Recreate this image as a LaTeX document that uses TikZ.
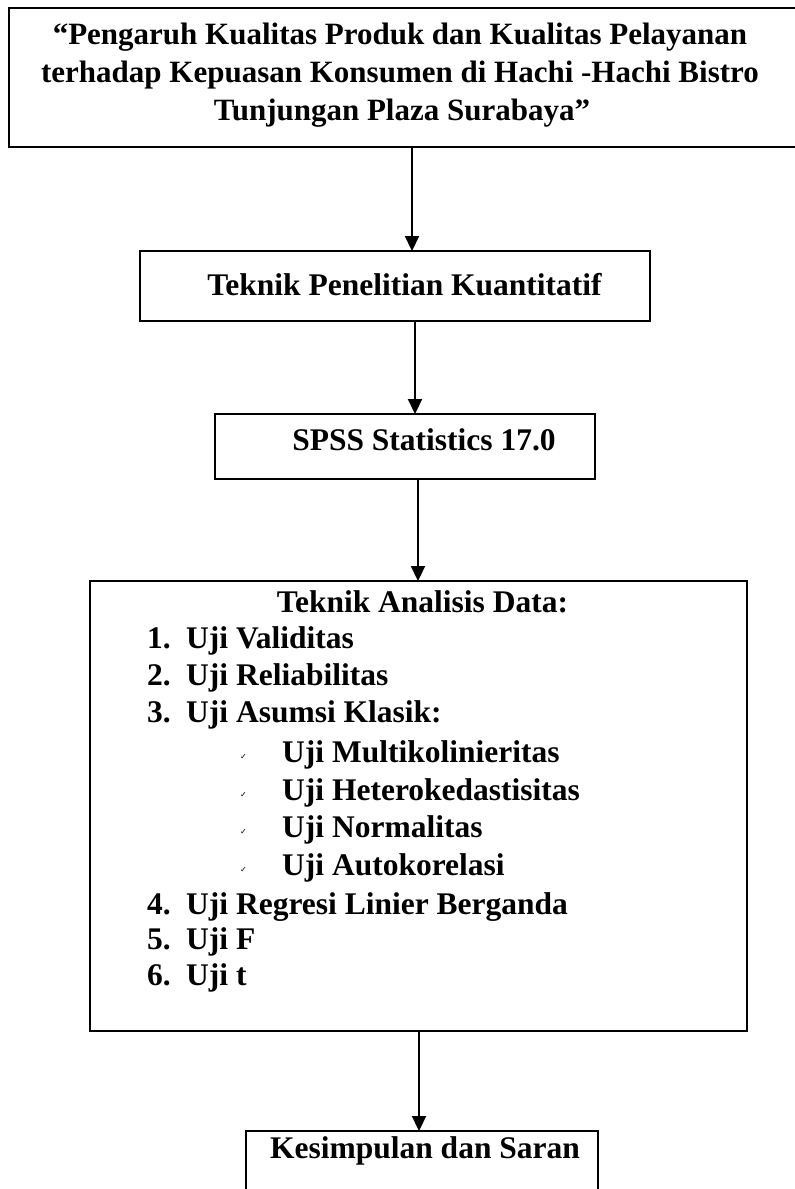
\documentclass[tikz,border=0pt]{standalone}
\usepackage{fontspec}
\setmainfont{Liberation Serif}
\newfontfamily\symfont{DejaVu Sans}
\usetikzlibrary{arrows.meta}
\begin{document}
\begin{tikzpicture}[x=1pt,y=-1pt,
  box/.style={draw,line width=1.8pt,inner sep=0pt,outer sep=0pt},
  arr/.style={line width=2.2pt,-{Triangle[length=15pt,width=14pt]}},
  ttl/.style={font=\fontsize{31}{37}\selectfont\bfseries,inner sep=0pt,anchor=base},
  txt/.style={font=\fontsize{31.5}{37}\selectfont\bfseries,inner sep=0pt,anchor=base},
  itm/.style={txt,anchor=base west},
  chk/.style={font=\symfont\fontsize{8}{8}\selectfont,inner sep=0pt,anchor=base west}]
\useasboundingbox (0,0) rectangle (795,1189);
% boxes
\node[box,minimum width=791pt,minimum height=139pt] (b1) at (404.5,77.5) {};
\node[box,minimum width=510pt,minimum height=70pt] (b2) at (395,286) {};
\node[box,minimum width=380pt,minimum height=65pt] (b3) at (405,446.5) {};
\node[box,minimum width=657pt,minimum height=450pt] (b4) at (418.5,806) {};
\node[box,minimum width=352pt,minimum height=80pt] (b5) at (422,1171) {};
% texts
\node[ttl] (t1a) at (400,44) {“Pengaruh Kualitas Produk dan Kualitas Pelayanan};
\node[ttl] (t1b) at (400,82) {terhadap Kepuasan Konsumen di Hachi -Hachi Bistro};
\node[ttl] (t1c) at (402,120) {Tunjungan Plaza Surabaya”};
\node[txt] (t2) at (404.5,295) {Teknik Penelitian Kuantitatif};
\node[txt] (t3) at (424,450) {SPSS Statistics 17.0};
\node[txt] (t4) at (422.5,612) {Teknik Analisis Data:};
% list
\foreach \n/\lbl/\y in {1/Uji Validitas/648, 2/Uji Reliabilitas/685, 3/Uji Asumsi Klasik:/722,
    4/Uji Regresi Linier Berganda/914, 5/Uji F/949, 6/Uji t/985}{
  \node[itm] (n\n) at (147,\y) {\n.};
  \node[itm] (i\n) at (186,\y) {\lbl};
}
\foreach \k/\lbl/\y in {a/Uji Multikolinieritas/762, b/Uji Heterokedastisitas/800,
    c/Uji Normalitas/837, d/Uji Autokorelasi/875}{
  \node[chk] (c\k) at (240,\y-3) {✓};
  \node[itm] (s\k) at (282,\y) {\lbl};
}
\node[txt] (t5) at (425,1158) {Kesimpulan dan Saran};
% arrows
\draw[arr] (412,0 |- b1.south) -- (412,0 |- b2.north);
\draw[arr] (415,0 |- b2.south) -- (415,0 |- b3.north);
\draw[arr] (418,0 |- b3.south) -- (418,0 |- b4.north);
\draw[arr] (419,0 |- b4.south) -- (419,0 |- b5.north);
\end{tikzpicture}
\end{document}
